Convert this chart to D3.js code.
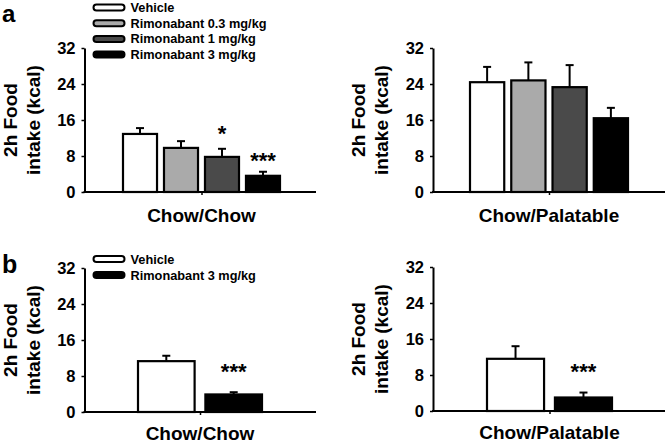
<!DOCTYPE html>
<html>
<head>
<meta charset="utf-8">
<script src="https://cdn.jsdelivr.net/npm/d3@7"></script>
<style>
  html, body { margin: 0; padding: 0; background: #fff; }
  svg { display: block; font-family: "Liberation Sans", Arial, sans-serif; font-weight: bold; }
</style>
</head>
<body>
<svg id="chart" width="667" height="444"></svg>
<script>
// ---------- data ----------
const groupsA = ["Vehicle", "Rimonabant 0.3 mg/kg", "Rimonabant 1 mg/kg", "Rimonabant 3 mg/kg"];
const groupsB = ["Vehicle", "Rimonabant 3 mg/kg"];
const yTicks = [0, 8, 16, 24, 32];
const yLabelLines = ["2h Food", "intake (kcal)"];

const aChowChowMean = [12.9, 9.8, 7.8, 3.6];
const aChowChowSem  = [1.3, 1.5, 1.8, 0.9];
const aChowChowSig  = ["", "", "*", "***"];
const aChowChowSigAt = [null, null, 14.2, 8.2];

const aChowPalMean = [24.4, 24.8, 23.3, 16.4];
const aChowPalSem  = [3.4, 4.0, 4.9, 2.3];

const bChowChowMean = [11.3, 3.9];
const bChowChowSem  = [1.2, 0.5];
const bChowChowSig  = ["", "***"];
const bChowChowSigAt = [null, 10.2];

const bChowPalMean = [11.6, 3.0];
const bChowPalSem  = [2.8, 1.1];
const bChowPalSig  = ["", "***"];
const bChowPalSigAt = [null, 10.0];

// ---------- styles ----------
const fillOf = {
  "Vehicle": "#ffffff",
  "Rimonabant 0.3 mg/kg": "#aaaaaa",
  "Rimonabant 1 mg/kg": "#4a4a4a",
  "Rimonabant 3 mg/kg": "#000000"
};

const panels = [
  { cat: "Chow/Chow", groups: groupsA, mean: aChowChowMean, sem: aChowChowSem, sig: aChowChowSig, sigAt: aChowChowSigAt,
    axisX: 84.5, xEnd: 316, top: 48, bottom: 192, bars: [123, 280], pad: 0.17, labY: 222 },
  { cat: "Chow/Palatable", groups: groupsA, mean: aChowPalMean, sem: aChowPalSem, sig: null, sigAt: null,
    axisX: 433, xEnd: 665, top: 48, bottom: 192, bars: [470, 628], pad: 0.17, labY: 222 },
  { cat: "Chow/Chow", groups: groupsB, mean: bChowChowMean, sem: bChowChowSem, sig: bChowChowSig, sigAt: bChowChowSigAt,
    axisX: 84.5, xEnd: 316, top: 268, bottom: 412, bars: [138, 262], pad: 0.16, labY: 439.5 },
  { cat: "Chow/Palatable", groups: groupsB, mean: bChowPalMean, sem: bChowPalSem, sig: bChowPalSig, sigAt: bChowPalSigAt,
    axisX: 433, xEnd: 665, top: 267, bottom: 411, bars: [487, 612], pad: 0.16, labY: 439 }
];

const svg = d3.select("#chart");

panels.forEach(p => {
  const g = svg.append("g");
  const y = d3.scaleLinear().domain([0, 32]).range([p.bottom, p.top]);
  const x = d3.scaleBand().domain(p.groups).range(p.bars).paddingInner(p.pad).paddingOuter(0);

  // bars
  g.selectAll("rect.bar").data(p.groups).join("rect")
    .attr("class", "bar")
    .attr("x", d => x(d))
    .attr("width", x.bandwidth())
    .attr("y", (d, i) => y(p.mean[i]))
    .attr("height", (d, i) => y(0) - y(p.mean[i]))
    .attr("fill", d => fillOf[d])
    .attr("stroke", "#000")
    .attr("stroke-width", 2.2);

  // error bars (upper)
  p.groups.forEach((d, i) => {
    const cx = x(d) + x.bandwidth() / 2;
    g.append("line")
      .attr("x1", cx).attr("x2", cx)
      .attr("y1", y(p.mean[i])).attr("y2", y(p.mean[i] + p.sem[i]))
      .attr("stroke", "#000").attr("stroke-width", 2);
    g.append("line")
      .attr("x1", cx - 4).attr("x2", cx + 4)
      .attr("y1", y(p.mean[i] + p.sem[i])).attr("y2", y(p.mean[i] + p.sem[i]))
      .attr("stroke", "#000").attr("stroke-width", 2);
    if (p.sig && p.sig[i]) {
      g.append("text")
        .attr("x", cx)
        .attr("y", y(p.sigAt[i]) + 12.5)
        .attr("text-anchor", "middle")
        .attr("font-size", 22)
        .attr("fill", "#000")
        .text(p.sig[i]);
    }
  });

  // y axis
  const yAxis = d3.axisLeft(y).tickValues(yTicks).tickSize(3).tickPadding(6).tickSizeOuter(0);
  const ya = g.append("g").attr("transform", `translate(${p.axisX},0)`).call(yAxis);
  ya.select(".domain").attr("stroke", "#000").attr("stroke-width", 2);
  ya.selectAll(".tick line").attr("stroke", "#000").attr("stroke-width", 1.5);
  ya.selectAll(".tick text").attr("font-size", 16.5).attr("font-weight", "bold")
    .attr("font-family", "Liberation Sans, Arial, sans-serif").attr("fill", "#000");

  // x axis
  const xs = d3.scalePoint().domain([p.cat]).range([x.range()[0], x.range()[1]]).padding(0.5);
  const xAxis = d3.axisBottom(xs).tickSize(3).tickSizeOuter(0).tickFormat("");
  const xa = g.append("g").attr("transform", `translate(0,${p.bottom})`).call(xAxis);
  xa.select(".domain").attr("d", `M${p.axisX - 1},0H${p.xEnd}`).attr("stroke", "#000").attr("stroke-width", 2);
  xa.selectAll(".tick line").attr("stroke", "#000").attr("stroke-width", 1.5);

  g.append("text")
    .attr("x", xs(p.cat))
    .attr("y", p.labY)
    .attr("text-anchor", "middle")
    .attr("font-size", 19)
    .attr("fill", "#000")
    .text(p.cat);

  // y label (two lines)
  const cy = (p.top + p.bottom) / 2;
  const lab = g.append("text")
    .attr("transform", `translate(${p.axisX - 68},${cy}) rotate(-90)`)
    .attr("text-anchor", "middle")
    .attr("font-size", 19)
    .attr("fill", "#000");
  lab.append("tspan").attr("x", 0).attr("y", 0).text(yLabelLines[0]);
  lab.append("tspan").attr("x", 0).attr("y", 23).text(yLabelLines[1]);
});

// legends
function legend(items, x0, y0, step) {
  const lg = svg.append("g");
  items.forEach((d, i) => {
    const yy = y0 + i * step;
    lg.append("rect")
      .attr("x", x0).attr("y", yy - 3)
      .attr("width", 31).attr("height", 6)
      .attr("rx", 3)
      .attr("fill", fillOf[d])
      .attr("stroke", "#000").attr("stroke-width", 2);
    lg.append("text")
      .attr("x", x0 + 37).attr("y", yy + 4.5)
      .attr("font-size", 12.75)
      .attr("fill", "#000")
      .text(d);
  });
}
legend(groupsA, 93.5, 7.5, 15.7);
legend(groupsB, 93.5, 259, 16);

// panel letters
svg.append("text").attr("x", 2).attr("y", 21.5).attr("font-size", 24).attr("fill", "#000").text("a");
svg.append("text").attr("x", 2).attr("y", 273).attr("font-size", 25).attr("fill", "#000").text("b");
</script>
</body>
</html>
